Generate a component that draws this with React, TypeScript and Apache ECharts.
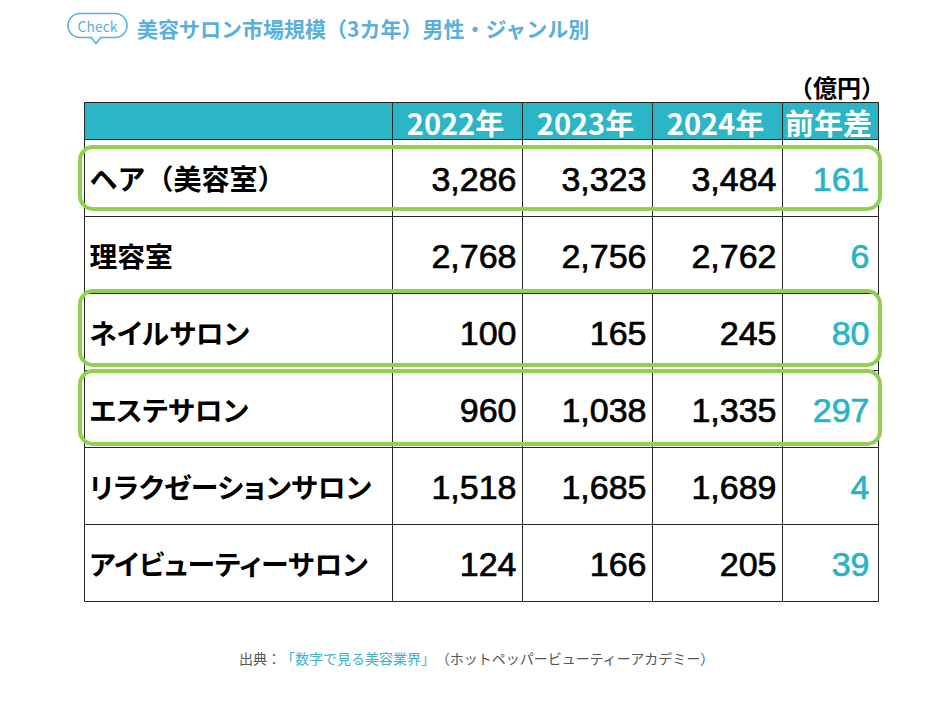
import React, { useEffect, useRef } from "react";
import * as echarts from "echarts";

// ---- data ----
const categories = ["ヘア（美容室）", "理容室", "ネイルサロン", "エステサロン", "リラクゼーションサロン", "アイビューティーサロン"];
const yearHeaders = ["2022年", "2023年", "2024年"];
const diffHeader = "前年差";
const values2022 = [3286, 2768, 100, 960, 1518, 124];
const values2023 = [3323, 2756, 165, 1038, 1685, 166];
const values2024 = [3484, 2762, 245, 1335, 1689, 205];
const diffValues = [161, 6, 80, 297, 4, 39];
const highlightedRows = [0, 2, 3];
const titleText = "美容サロン市場規模（3カ年）男性・ジャンル別";
const unitText = "（億円）";
const sourceLabel = "出典：";
const sourceLink = "「数字で見る美容業界」";
const sourceOrg = "（ホットペッパービューティーアカデミー）";

// ---- layout ----
const COL_EDGES = [0, 308, 438, 568, 698, 794];
const HEADER_UNITS = 37 / 77;
const TEAL = "#2cb5c7";
const CYAN = "#2ab3c7";
const GREEN = "#92d050";
const BLUE = "#5aafdc";
const JP = '"Noto Sans CJK JP", "Noto Sans", sans-serif';
const NUM = '"Liberation Sans", Arial, sans-serif';
const LABEL_FONT_PROP = `bold 27.8px ${JP}`; // proportional kana (palt via CSS)
const LABEL_FONT_FULL = `bold 28px ${JP}`; // labels with full-width brackets
const HL_INSET: Record<number, [number, number]> = { 0: [8, 7], 2: [-2, 5], 3: [1, 3] };

type Cell = { col: number; row: number; text: string; kind: string };

function buildCells(): Cell[] {
  const cells: Cell[] = [];
  const heads = ["", ...yearHeaders, diffHeader];
  heads.forEach((t, i) => cells.push({ col: i, row: -1, text: t, kind: "head" }));
  categories.forEach((cat, r) => {
    cells.push({ col: 0, row: r, text: cat, kind: "label" });
    [values2022, values2023, values2024].forEach((arr, k) =>
      cells.push({ col: k + 1, row: r, text: arr[r].toLocaleString("en-US"), kind: "num" })
    );
    cells.push({ col: 4, row: r, text: diffValues[r].toLocaleString("en-US"), kind: "diff" });
  });
  return cells;
}

export default function App() {
  const ref = useRef<HTMLDivElement>(null);
  useEffect(() => {
    document.body.style.margin = "0";
    if (!ref.current) return;
    const chart = echarts.init(ref.current, undefined, { renderer: "svg" });
    const cells = buildCells();
    const option: any = {
      animation: false,
      backgroundColor: "#ffffff",
      grid: { left: 84, top: 102, width: 794, height: 499 },
      xAxis: { type: "value", min: 0, max: 794, show: false, splitLine: { show: false } },
      yAxis: { type: "value", min: -HEADER_UNITS, max: 6, inverse: true, show: false, splitLine: { show: false } },
      series: [
        {
          type: "custom",
          coordinateSystem: "cartesian2d",
          z: 2,
          data: cells.map((c) => [c.col, c.row]),
          renderItem: (params: any, api: any) => {
            const c = cells[params.dataIndex];
            const yTop = c.row < 0 ? -HEADER_UNITS : c.row;
            const yBot = c.row < 0 ? 0 : c.row + 1;
            const p0 = api.coord([COL_EDGES[c.col], yTop]);
            const p1 = api.coord([COL_EDGES[c.col + 1], yBot]);
            const x0 = Math.round(p0[0]) + 0.5;
            const y0 = Math.round(p0[1]) + 0.5;
            const x1 = Math.round(p1[0]) + 0.5;
            const y1 = Math.round(p1[1]) + 0.5;
            const midY = (y0 + y1) / 2;
            const children: any[] = [
              {
                type: "rect",
                shape: { x: x0, y: y0, width: x1 - x0, height: y1 - y0 },
                style: { fill: c.kind === "head" ? TEAL : "#ffffff", stroke: "#262626", lineWidth: 1 },
              },
            ];
            let textStyle: any;
            if (c.kind === "head") {
              textStyle = { x: (x0 + x1) / 2 - 2, y: midY + 1, textAlign: "center", textVerticalAlign: "middle", fill: "#ffffff", font: `bold 29px ${JP}` };
            } else if (c.kind === "label") {
              const full = c.text.indexOf("（") >= 0;
              textStyle = { x: x0 + 5, y: midY, textAlign: "left", textVerticalAlign: "middle", fill: "#000000", font: full ? LABEL_FONT_FULL : LABEL_FONT_PROP };
            } else {
              const col = c.kind === "diff" ? CYAN : "#000000";
              textStyle = {
                x: x1 - (c.kind === "diff" ? 9 : 6),
                y: midY + 1,
                textAlign: "right",
                textVerticalAlign: "middle",
                fill: col,
                stroke: col,
                lineWidth: 0.7,
                font: `34px ${NUM}`,
              };
            }
            if (c.text) children.push({ type: "text", style: { text: c.text, ...textStyle } });
            return { type: "group", children };
          },
        },
        {
          type: "custom",
          coordinateSystem: "cartesian2d",
          z: 5,
          data: highlightedRows.map((r) => [r]),
          renderItem: (params: any, api: any) => {
            const r = highlightedRows[params.dataIndex];
            const inset = HL_INSET[r] || [2, 2];
            const p0 = api.coord([-4, r]);
            const p1 = api.coord([796, r + 1]);
            return {
              type: "rect",
              shape: { x: p0[0], y: p0[1] + inset[0], width: p1[0] - p0[0], height: p1[1] - p0[1] - inset[0] - inset[1], r: 13 },
              style: { fill: "none", stroke: GREEN, lineWidth: 4 },
            };
          },
        },
      ],
      graphic: [
        {
          type: "rect",
          shape: { x: 68, y: 13.5, width: 59, height: 24, r: 12 },
          style: { fill: "#ffffff", stroke: BLUE, lineWidth: 1.6 },
        },
        {
          type: "polygon",
          shape: { points: [[91, 36.5], [96, 43.5], [101, 36.5]] },
          style: { fill: "#ffffff", stroke: "none" },
        },
        {
          type: "polyline",
          shape: { points: [[91, 37.2], [96, 43.5], [101, 37.2]] },
          style: { fill: "none", stroke: BLUE, lineWidth: 1.6 },
        },
        {
          type: "text",
          style: { text: "Check", x: 97.5, y: 25.5, textAlign: "center", textVerticalAlign: "middle", fill: BLUE, font: `14px ${JP}` },
        },
        {
          type: "text",
          style: { text: titleText, x: 137, y: 28, textAlign: "left", textVerticalAlign: "middle", fill: BLUE, font: `bold 21px ${JP}` },
        },
        {
          type: "text",
          style: { text: unitText, x: 885, y: 86, textAlign: "right", textVerticalAlign: "middle", fill: "#000000", font: `bold 24px ${JP}` },
        },
        {
          type: "text",
          style: {
            text: `{g|${sourceLabel}}{l|${sourceLink}}{g|${sourceOrg}}`,
            x: 477,
            y: 658,
            textAlign: "center",
            textVerticalAlign: "middle",
            font: `14px ${JP}`,
            rich: {
              g: { fill: "#555555", font: `14px ${JP}` },
              l: { fill: "#3ab3c9", font: `14px ${JP}` },
            },
          },
        },
      ],
    };
    chart.setOption(option);
    return () => chart.dispose();
  }, []);
  return (
    <>
      <style>{`#chart-root svg text[style*="27.8px"] { font-feature-settings: "palt" 1 !important; font-variant-east-asian: proportional-width !important; }`}</style>
      <div id="chart-root" ref={ref} style={{ width: 943, height: 707 }} />
    </>
  );
}
